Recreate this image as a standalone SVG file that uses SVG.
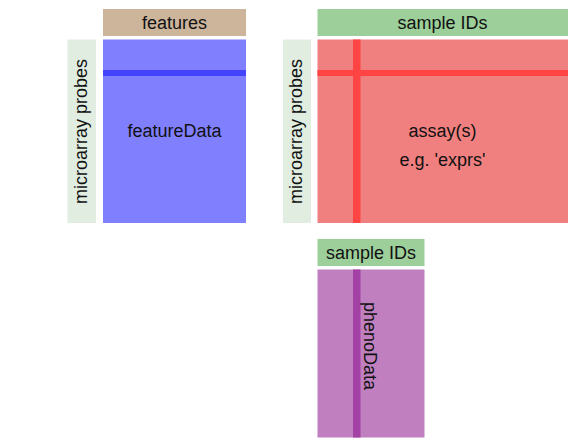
<svg xmlns="http://www.w3.org/2000/svg" width="581" height="445" viewBox="0 0 581 445">
<style>
text{font-family:"Liberation Sans",Arial,sans-serif;font-size:18px;fill:#111;text-anchor:middle}
.strip{fill:#e0ede0}
.hdr-g{fill:#9dcf9b}
.hdr-t{fill:#cdb59c}
.blue{fill:#8080ff}
.blue-l{fill:#4444ff}
.red{fill:#f08080}
.red-l{fill:#ff4444}
.purp{fill:#c080c0}
.purp-l{fill:#a441a4}
</style>
<rect width="581" height="445" fill="#fff"/>
<g id="featureData">
<rect class="hdr-t" x="103" y="9" width="143" height="27"/>
<text x="174.5" y="29">features</text>
<rect class="strip" x="67.5" y="39.5" width="28.5" height="183.5"/>
<text transform="translate(86.5,131.5) rotate(-90)">microarray probes</text>
<rect class="blue" x="103" y="39.5" width="143" height="183.5"/>
<rect class="blue-l" x="103" y="70" width="143" height="6"/>
<text x="174.5" y="137">featureData</text>
</g>
<g id="assayData">
<rect class="hdr-g" x="317.5" y="9" width="250.5" height="27"/>
<text x="442.5" y="29">sample IDs</text>
<rect class="strip" x="283" y="39.5" width="28" height="183.5"/>
<text transform="translate(302,131.5) rotate(-90)">microarray probes</text>
<rect class="red" x="317.5" y="39.5" width="250.5" height="183.5"/>
<rect class="red-l" x="317.5" y="70" width="250.5" height="6"/>
<rect class="red-l" x="353" y="39.5" width="7.5" height="183.5"/>
<text x="442.5" y="137">assay(s)</text>
<text x="442.5" y="165.5">e.g. 'exprs'</text>
</g>
<g id="phenoData">
<rect class="hdr-g" x="317.5" y="239" width="107" height="27"/>
<text x="371" y="259">sample IDs</text>
<rect class="purp" x="317.5" y="269.5" width="107" height="168"/>
<rect class="purp-l" x="353" y="269.5" width="7.5" height="168"/>
<text transform="translate(364,346) rotate(90)">phenoData</text>
</g>
</svg>
